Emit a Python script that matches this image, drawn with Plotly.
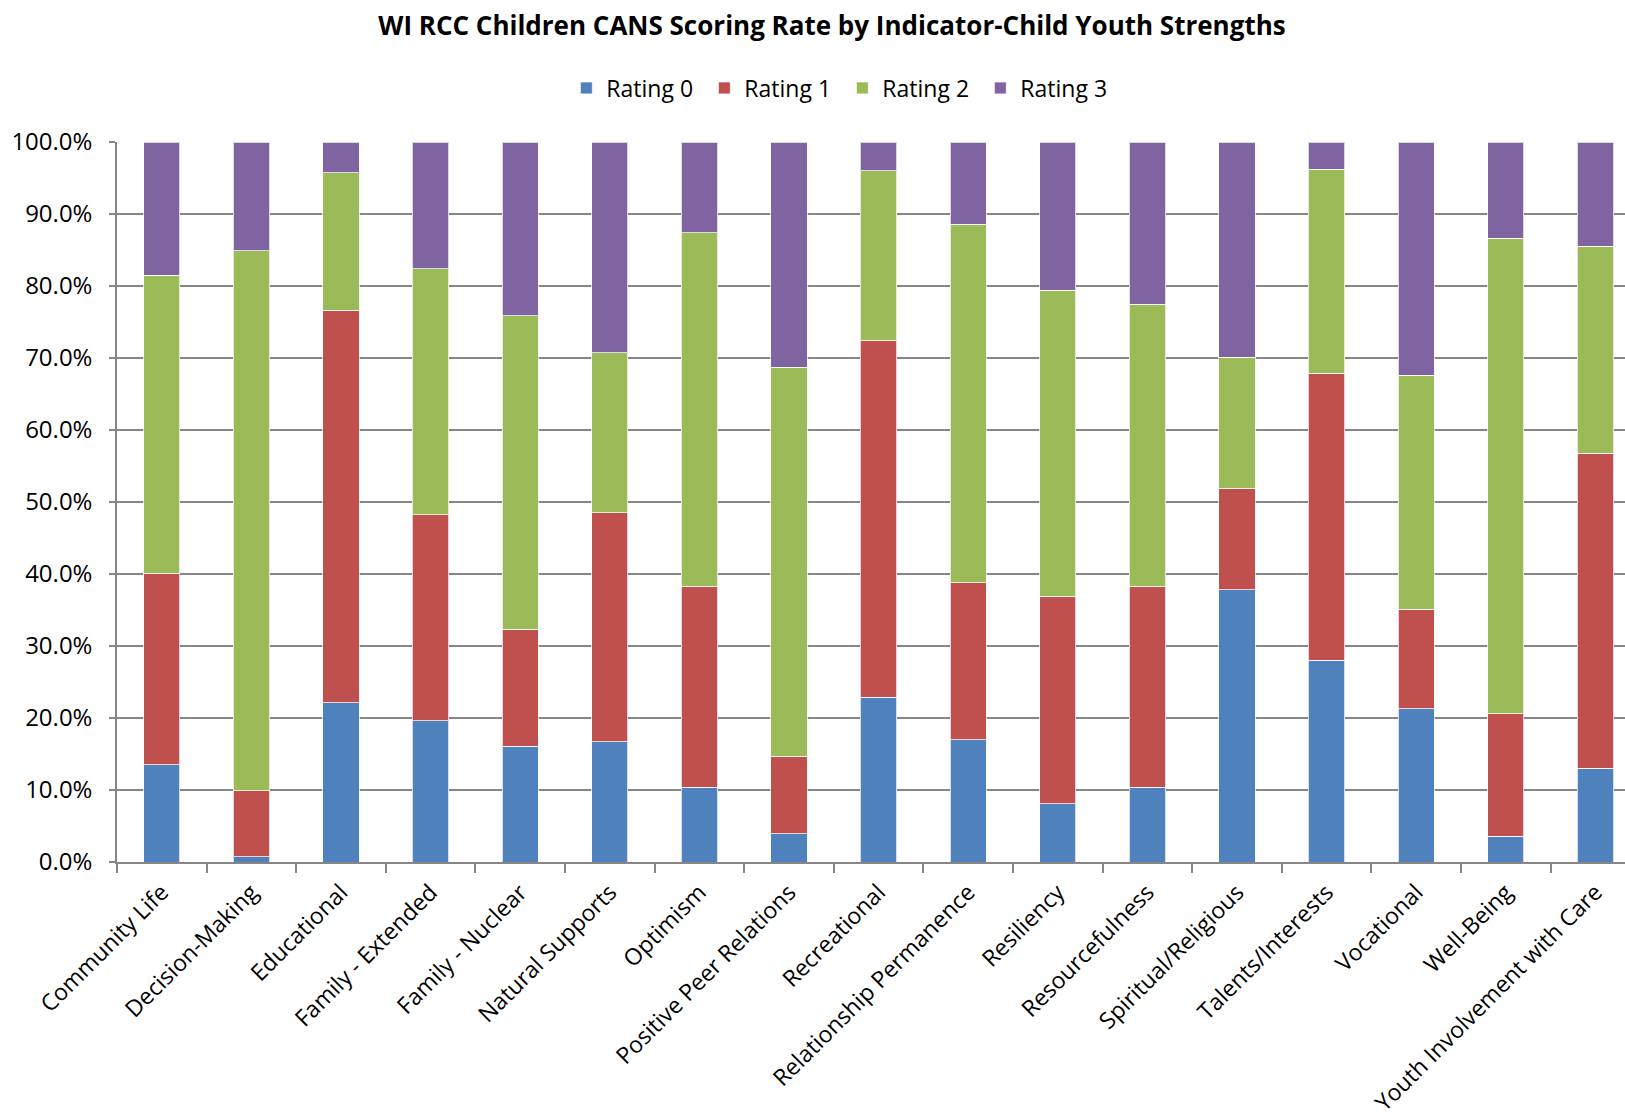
import plotly.graph_objects as go

# CANS strength indicators and the share of children at each rating (percent)
indicators = [
    "Community Life", "Decision-Making", "Educational", "Family - Extended",
    "Family - Nuclear", "Natural Supports", "Optimism", "Positive Peer Relations",
    "Recreational", "Relationship Permanence", "Resiliency", "Resourcefulness",
    "Spiritual/Religious", "Talents/Interests", "Vocational", "Well-Being",
    "Youth Involvement with Care",
]
rating_0 = [13.5, 0.7, 22.1, 19.6, 16.1, 16.7, 10.4, 3.9, 22.9, 17.0, 8.1, 10.4, 37.8, 28.0, 21.3, 3.6, 13.0]
rating_1 = [26.6, 9.2, 54.5, 28.6, 16.2, 31.8, 27.9, 10.8, 49.5, 21.8, 28.8, 27.9, 14.1, 39.9, 13.8, 17.0, 43.8]
rating_2 = [41.4, 75.0, 19.1, 34.2, 43.6, 22.2, 49.1, 54.0, 23.6, 49.8, 42.5, 39.2, 18.2, 28.3, 32.5, 66.0, 28.7]
rating_3 = [18.5, 15.1, 4.3, 17.6, 24.1, 29.3, 12.6, 31.3, 4.0, 11.4, 20.6, 22.5, 29.9, 3.8, 32.4, 13.4, 14.5]

series = [
    ("Rating 0", rating_0, "#4F81BD"),
    ("Rating 1", rating_1, "#C0504D"),
    ("Rating 2", rating_2, "#9BBB59"),
    ("Rating 3", rating_3, "#8064A2"),
]

FONT = "Open Sans"
GRID = "#868686"

fig = go.Figure()
for name, vals, color in series:
    fig.add_trace(go.Bar(
        name=name,
        x=indicators,
        y=[v / 100 for v in vals],
        marker=dict(color=color, line=dict(color="rgba(255,255,255,0.75)", width=1)),
    ))

fig.update_layout(
    width=1625,
    height=1115,
    barmode="stack",
    bargap=0.595,
    paper_bgcolor="white",
    plot_bgcolor="white",
    margin=dict(l=117, r=0, t=142, b=253, autoexpand=False),
    font=dict(family=FONT, color="black"),
    title=dict(
        text="<b>WI RCC Children CANS Scoring Rate by Indicator-Child Youth Strengths</b>",
        font=dict(family=FONT, size=26, color="black"),
        x=0.512, xanchor="center",
        y=0.977, yanchor="middle",
    ),
    legend=dict(
        orientation="h",
        traceorder="normal",
        x=0.481, xanchor="center",
        y=1.075, yanchor="middle",
        font=dict(family=FONT, size=23, color="black"),
        itemwidth=30,
        entrywidth=93,
        entrywidthmode="pixels",
    ),
    xaxis=dict(
        type="category",
        range=[-0.5, 16.33],
        automargin=False,
        tickangle=-45,
        tickson="boundaries",
        ticks="outside",
        ticklen=9,
        tickwidth=1.5,
        tickcolor=GRID,
        ticklabelstandoff=6,
        showline=True,
        linecolor=GRID,
        linewidth=1.5,
        showgrid=False,
        tickfont=dict(family=FONT, size=23, color="black"),
    ),
    yaxis=dict(
        range=[0, 1],
        automargin=False,
        dtick=0.1,
        tickformat=".1%",
        ticks="outside",
        ticklen=6,
        tickwidth=1.5,
        tickcolor=GRID,
        ticklabelstandoff=12,
        showline=True,
        linecolor=GRID,
        linewidth=1.5,
        showgrid=True,
        gridcolor=GRID,
        gridwidth=1.5,
        zeroline=False,
        tickfont=dict(family=FONT, size=24, color="black"),
    ),
)

fig.write_html("out.html")
